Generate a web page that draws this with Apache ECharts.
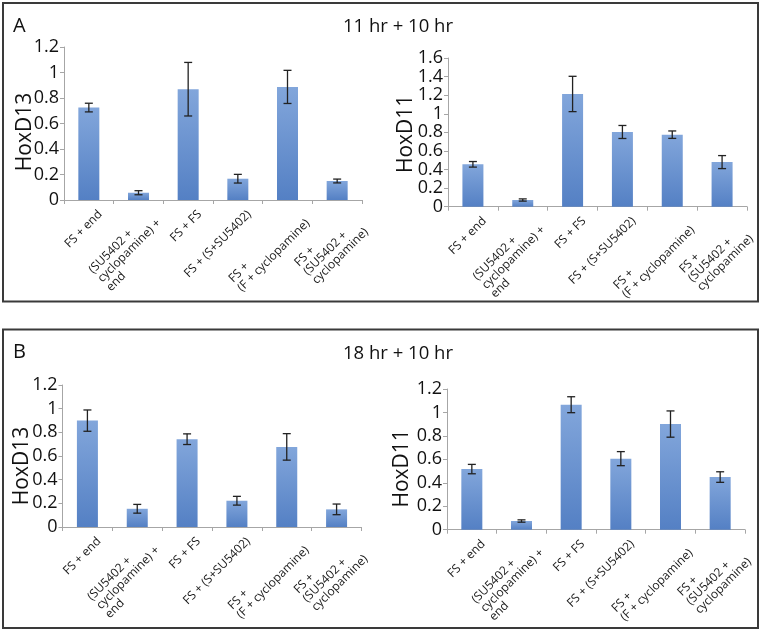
<!DOCTYPE html>
<html>
<head>
<meta charset="utf-8">
<script src="https://cdn.jsdelivr.net/npm/echarts@6/dist/echarts.min.js"></script>
<style>
html,body{margin:0;padding:0;background:#fff;}
#main{width:762px;height:631px;}
</style>
</head>
<body>
<div id="main"></div>
<script>
// ---- data ----
const categories = ['FS + end', '(SU5402 +\ncyclopamine) +\nend', 'FS + FS', 'FS + (S+SU5402)', 'FS +\n(F + cyclopamine)', 'FS +\n(SU5402 +\ncyclopamine)'];
const panelTitles = ['11 hr + 10 hr', '18 hr + 10 hr'];
const panelLetters = ['A', 'B'];
const yNames = ['HoxD13', 'HoxD11', 'HoxD13', 'HoxD11'];
const yMax = [1.2, 1.6, 1.2, 1.2];

const hoxD13_A = [0.725, 0.057, 0.869, 0.167, 0.887, 0.149];
const hoxD13_A_err = [0.034, 0.016, 0.21, 0.034, 0.13, 0.015];
const hoxD11_A = [0.456, 0.072, 1.213, 0.804, 0.775, 0.48];
const hoxD11_A_err = [0.03, 0.012, 0.19, 0.07, 0.04, 0.07];
const hoxD13_B = [0.899, 0.154, 0.742, 0.222, 0.677, 0.149];
const hoxD13_B_err = [0.09, 0.037, 0.045, 0.037, 0.112, 0.045];
const hoxD11_B = [0.517, 0.074, 1.066, 0.606, 0.901, 0.449];
const hoxD11_B_err = [0.04, 0.01, 0.068, 0.06, 0.112, 0.045];

const seriesValues = [hoxD13_A, hoxD11_A, hoxD13_B, hoxD11_B];
const seriesErrors = [hoxD13_A_err, hoxD11_A_err, hoxD13_B_err, hoxD11_B_err];

// ---- layout / style ----
const FONT = 'Open Sans';
const grids = [
  {left: 64, top: 47, width: 298, height: 153},
  {left: 448, top: 58, width: 299, height: 148.7},
  {left: 62.5, top: 385, width: 299, height: 142},
  {left: 447, top: 389, width: 298, height: 140.7}
];
const nameGaps = [28, 31, 30, 34];
const namePads = [[0, 17, 0, 0], [0, 3, 0, 0], [0, 20, 0, 0], [0, 18, 0, 0]];
const axisColor = '#a6a6a6';

const barColor = new echarts.graphic.LinearGradient(0, 0, 0, 1, [
  {offset: 0, color: '#82a6db'},
  {offset: 1, color: '#5480c4'}
]);

const chart = echarts.init(document.getElementById('main'), null, {renderer: 'canvas'});

const xAxes = [], yAxes = [], series = [];
grids.forEach((g, i) => {
  g.outerBoundsMode = 'none';
  g.containLabel = false;
  xAxes.push({
    type: 'category', gridIndex: i, data: categories,
    axisLine: {show: true, lineStyle: {color: axisColor, width: 1}},
    axisTick: {show: true, length: 4, lineStyle: {color: axisColor}},
    axisLabel: {
      interval: 0, rotate: 45, margin: 1, verticalAlign: 'top', padding: [10, 0, 0, 0],
      formatter: (v) => v.split('\n').map(s => '{a|' + s + '}').join('\n'),
      rich: {a: {align: 'left', fontSize: 12, lineHeight: 12.5, color: '#1a1a1a', fontFamily: FONT}}
    },
    splitLine: {show: false}
  });
  yAxes.push({
    type: 'value', gridIndex: i, min: 0, max: yMax[i], interval: 0.2,
    name: yNames[i], nameLocation: 'middle', nameGap: nameGaps[i], nameMoveOverlap: false,
    nameTextStyle: {fontSize: 21, color: '#111', fontFamily: FONT, padding: namePads[i]},
    axisLine: {show: true, lineStyle: {color: axisColor, width: 1}},
    axisTick: {show: true, length: 4, lineStyle: {color: axisColor}},
    axisLabel: {fontSize: 18, color: '#111', fontFamily: FONT, margin: 5},
    splitLine: {show: false}
  });
  series.push({
    type: 'bar', xAxisIndex: i, yAxisIndex: i, barWidth: 21,
    data: seriesValues[i], itemStyle: {color: barColor}, silent: true
  });
  series.push({
    type: 'custom', xAxisIndex: i, yAxisIndex: i, z: 5, silent: true,
    encode: {x: 0, y: 1},
    data: seriesValues[i].map((v, k) => [k, v, seriesErrors[i][k]]),
    renderItem: (params, api) => {
      const x = api.value(0), v = api.value(1), e = api.value(2);
      const hi = api.coord([x, v + e]);
      const lo = api.coord([x, v - e]);
      const hw = 4;
      const st = {stroke: '#222', lineWidth: 1.3};
      return {type: 'group', children: [
        {type: 'line', shape: {x1: hi[0], y1: hi[1], x2: lo[0], y2: lo[1]}, style: st},
        {type: 'line', shape: {x1: hi[0] - hw, y1: hi[1], x2: hi[0] + hw, y2: hi[1]}, style: st},
        {type: 'line', shape: {x1: lo[0] - hw, y1: lo[1], x2: lo[0] + hw, y2: lo[1]}, style: st}
      ]};
    }
  });
});

const boxTops = [3, 329.5];
const graphics = [];
boxTops.forEach((by, i) => {
  graphics.push({type: 'rect', shape: {x: 3, y: by, width: 755, height: 298.5},
    style: {fill: 'none', stroke: '#3a3a3a', lineWidth: 2}, silent: true, z: 100});
  graphics.push({type: 'text', x: 13, y: by + 23, style: {text: panelLetters[i], fontSize: 20, fontFamily: FONT, fill: '#111', verticalAlign: 'middle'}});
  graphics.push({type: 'text', x: 398, y: by + 24, style: {text: panelTitles[i], fontSize: 18.5, fontFamily: FONT, fill: '#111', align: 'center', verticalAlign: 'middle'}});
});

chart.setOption({
  backgroundColor: '#fff',
  animation: false,
  grid: grids,
  xAxis: xAxes,
  yAxis: yAxes,
  series: series,
  graphic: graphics
});
</script>
</body>
</html>
